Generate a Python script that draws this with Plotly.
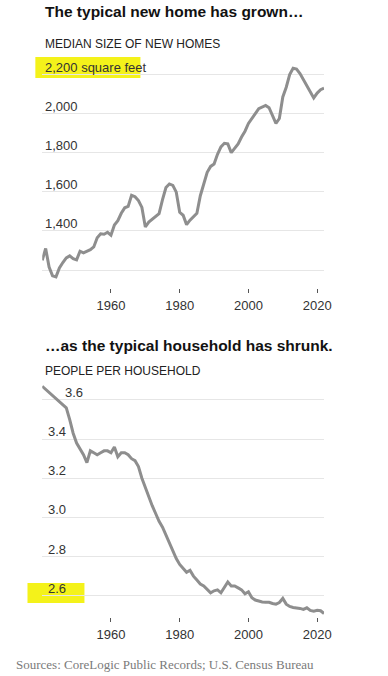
import plotly.graph_objects as go

# ---- Data: median size of new homes (sq ft) ----
home_years = list(range(1940, 2023))
home_sqft = [
    1250, 1310, 1215, 1170, 1165, 1210, 1238, 1262, 1272, 1258,
    1252, 1296, 1288, 1295, 1304, 1318, 1365, 1385, 1383, 1393,
    1378, 1430, 1452, 1490, 1518, 1525, 1582, 1575, 1555, 1520,
    1420, 1445, 1460, 1478, 1488, 1560, 1622, 1640, 1633, 1598,
    1495, 1480, 1432, 1455, 1470, 1490, 1580, 1645, 1700, 1730,
    1742, 1792, 1830, 1848, 1845, 1800, 1820, 1845, 1880, 1910,
    1950, 1978, 2000, 2025, 2035, 2042, 2030, 1990, 1950, 1975,
    2085, 2135, 2200, 2232, 2228, 2205, 2175, 2140, 2110, 2080,
    2105, 2122, 2130,
]

# ---- Data: people per household ----
hh_years = [1940] + list(range(1947, 2023))
hh_size = [
    3.67,
    3.56, 3.50, 3.43,
    3.38, 3.35, 3.32, 3.28, 3.34, 3.33, 3.32, 3.33, 3.34, 3.34,
    3.33, 3.36, 3.31, 3.33, 3.33, 3.32, 3.30, 3.29, 3.26, 3.20,
    3.15, 3.11, 3.06, 3.02, 2.98, 2.95, 2.91, 2.87, 2.83, 2.79,
    2.76, 2.74, 2.72, 2.73, 2.70, 2.68, 2.66, 2.65, 2.63, 2.615,
    2.625, 2.63, 2.615, 2.64, 2.67, 2.65, 2.65, 2.64, 2.63, 2.61,
    2.62, 2.59, 2.578, 2.573, 2.568, 2.567, 2.566, 2.56, 2.557, 2.565,
    2.586, 2.557, 2.545, 2.54, 2.538, 2.535, 2.53, 2.538, 2.525, 2.521,
    2.526, 2.523, 2.509,
]

x_ticks = [1960, 1980, 2000, 2020]
x_ticktext = ["1960", "1980", "2000", "2020"]
home_grid = [1200, 1400, 1600, 1800, 2000, 2200]
home_labels = {1400: "1,400", 1600: "1,600", 1800: "1,800", 2000: "2,000", 2200: "2,200 square feet"}
hh_grid = [2.6, 2.8, 3.0, 3.2, 3.4, 3.6]
hh_labels = {2.6: "2.6", 2.8: "2.8", 3.0: "3.0", 3.2: "3.2", 3.4: "3.4", 3.6: "3.6"}

title1 = "The typical new home has grown…"
sub1 = "MEDIAN SIZE OF NEW HOMES"
title2 = "…as the typical household has shrunk."
sub2 = "PEOPLE PER HOUSEHOLD"
source = "Sources: CoreLogic Public Records; U.S. Census Bureau"

# ---- Layout helpers ----
W, H = 388, 676
def px(xp):
    return xp / W
def py(yp):
    return 1 - yp / H

LINE = "#8e8e8e"
GRID = "#e6e6e6"
TXT = "#333333"
SANS = "Liberation Sans, Arial, sans-serif"

fig = go.Figure()
fig.add_trace(go.Scatter(x=home_years, y=home_sqft, mode="lines",
                         line=dict(color=LINE, width=3), xaxis="x", yaxis="y",
                         hoverinfo="x+y", showlegend=False))
fig.add_trace(go.Scatter(x=hh_years, y=hh_size, mode="lines",
                         line=dict(color=LINE, width=3), xaxis="x2", yaxis="y2",
                         hoverinfo="x+y", showlegend=False))

xcommon = dict(range=[1940, 2022], tickvals=x_ticks, ticktext=x_ticktext,
               showgrid=False, zeroline=False, showline=False,
               ticks="outside", ticklen=4, tickwidth=1, tickcolor="#555",
               tickfont=dict(family=SANS, size=13, color=TXT),
               ticklabelstandoff=1,
               domain=[px(43), px(330)])
ycommon = dict(showticklabels=False, showgrid=True, gridcolor=GRID, gridwidth=1,
               zeroline=False, showline=False, ticks="")

fig.update_layout(
    width=W, height=H,
    margin=dict(l=0, r=0, t=0, b=0),
    paper_bgcolor="white", plot_bgcolor="white",
    xaxis=dict(**xcommon, anchor="y"),
    yaxis=dict(**ycommon, range=[1107.9, 2274.2], tickvals=home_grid,
               domain=[py(288), py(60)], anchor="x"),
    xaxis2=dict(**xcommon, anchor="y2"),
    yaxis2=dict(**ycommon, range=[2.4912, 3.702], tickvals=hh_grid,
                domain=[py(617), py(380)], anchor="x2"),
    showlegend=False,
)

# Yellow highlighter marks (drawn below text)
fig.add_shape(type="rect", xref="paper", yref="paper", layer="below",
              x0=px(36), x1=px(143), y0=py(78), y1=py(57),
              fillcolor="#f4f21a", line=dict(width=0))
fig.add_shape(type="rect", xref="paper", yref="paper", layer="below",
              x0=px(28), x1=px(86), y0=py(603), y1=py(583),
              fillcolor="#f4f21a", line=dict(width=0))

ann = []
for v, t in home_labels.items():
    ann.append(dict(text=t, x=px(44), xref="paper", y=v, yref="y",
                    xanchor="left", yanchor="middle", yshift=7.5, showarrow=False,
                    font=dict(family=SANS, size=13, color=TXT)))
for v, t in hh_labels.items():
    xl = px(64) if v == 3.6 else px(47)
    ann.append(dict(text=t, x=xl, xref="paper", y=v, yref="y2",
                    xanchor="left", yanchor="middle", yshift=7.5, showarrow=False,
                    font=dict(family=SANS, size=13, color=TXT)))

ann.append(dict(text="<b>" + title1 + "</b>", x=px(44), y=py(12), xref="paper", yref="paper",
                xanchor="left", yanchor="middle", showarrow=False,
                font=dict(family=SANS, size=15.5, color="#121212")))
ann.append(dict(text=sub1, x=px(44), y=py(44), xref="paper", yref="paper",
                xanchor="left", yanchor="middle", showarrow=False,
                font=dict(family=SANS, size=12, color="#222")))
ann.append(dict(text="<b>" + title2 + "</b>", x=px(44), y=py(345), xref="paper", yref="paper",
                xanchor="left", yanchor="middle", showarrow=False,
                font=dict(family=SANS, size=15.5, color="#121212")))
ann.append(dict(text=sub2, x=px(44), y=py(371), xref="paper", yref="paper",
                xanchor="left", yanchor="middle", showarrow=False,
                font=dict(family=SANS, size=12, color="#222")))
ann.append(dict(text=source, x=px(14), y=py(664), xref="paper", yref="paper",
                xanchor="left", yanchor="middle", showarrow=False,
                font=dict(family="Liberation Serif, Times New Roman, serif", size=13, color="#7a7a7a")))

fig.update_layout(annotations=ann)
fig.write_html("out.html",
               config={"displayModeBar": False},
               post_script="document.body.style.margin='0';document.body.style.overflow='hidden';")
